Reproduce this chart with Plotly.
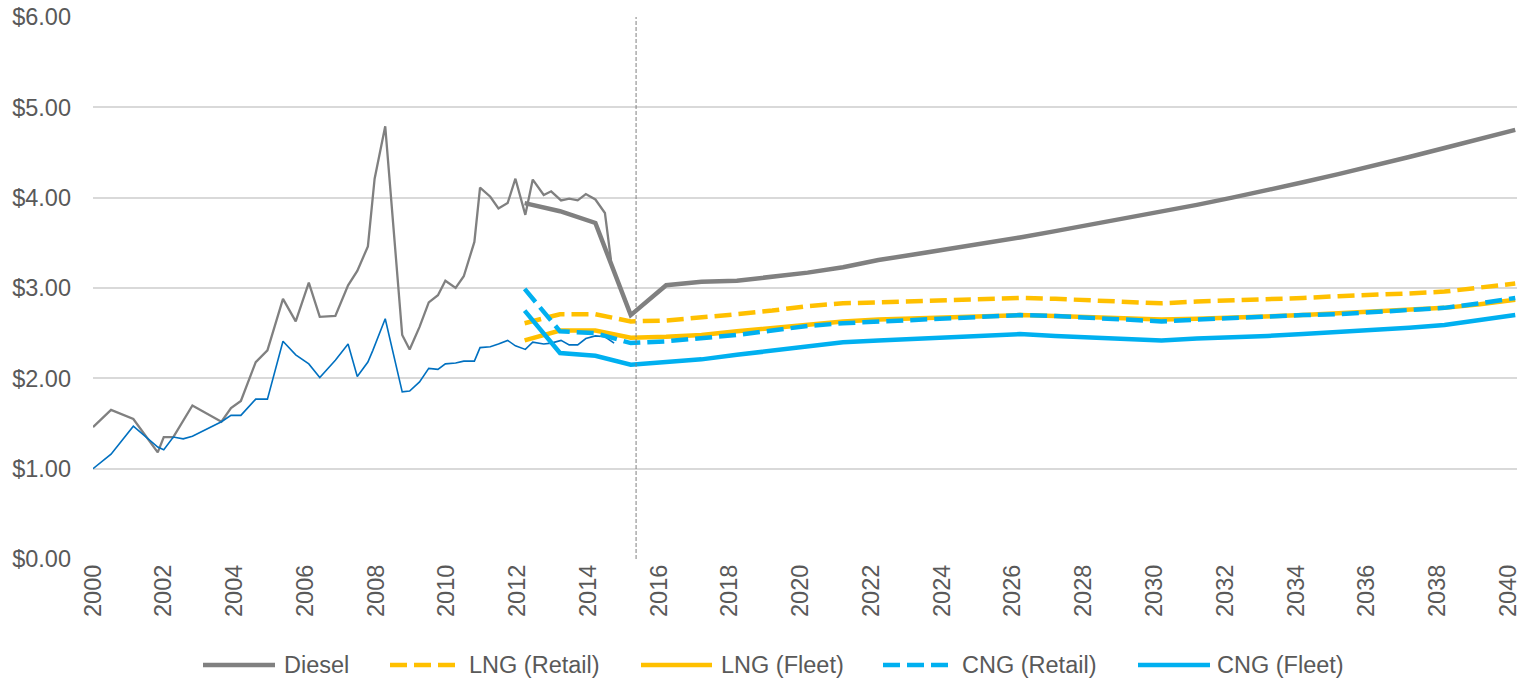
import plotly.graph_objects as go

# ---------------- data ----------------
# Historical diesel (thin grey), x in decimal years
hist_diesel_x = [2000.0, 2000.51, 2001.14, 2001.83, 2002.0, 2002.27, 2002.81, 2003.63, 2003.9,
                 2004.18, 2004.6, 2004.93, 2005.37, 2005.73, 2006.1, 2006.41, 2006.85, 2007.21,
                 2007.47, 2007.77, 2007.96, 2008.26, 2008.74, 2008.95, 2009.23, 2009.49, 2009.75,
                 2009.96, 2010.25, 2010.48, 2010.78, 2010.94, 2011.23, 2011.46, 2011.72, 2011.94,
                 2012.22, 2012.43, 2012.74, 2012.95, 2013.23, 2013.46, 2013.7, 2013.93, 2014.2,
                 2014.47, 2014.64]
hist_diesel_y = [1.46, 1.65, 1.55, 1.18, 1.35, 1.35, 1.70, 1.52, 1.67,
                 1.75, 2.18, 2.31, 2.88, 2.63, 3.06, 2.68, 2.69, 3.03,
                 3.19, 3.46, 4.21, 4.79, 2.48, 2.32, 2.57, 2.84, 2.92,
                 3.08, 3.00, 3.13, 3.51, 4.11, 4.01, 3.88, 3.94, 4.21,
                 3.81, 4.20, 4.03, 4.07, 3.97, 3.99, 3.97, 4.04, 3.98,
                 3.83, 3.31]

# Historical natural gas (thin blue)
hist_gas_x = [2000.0, 2000.51, 2001.14, 2001.83, 2002.0, 2002.27, 2002.55, 2002.81, 2003.63,
              2003.9, 2004.18, 2004.6, 2004.93, 2005.37, 2005.73, 2006.1, 2006.41, 2006.85,
              2007.21, 2007.47, 2007.77, 2007.91, 2008.26, 2008.74, 2008.95, 2009.23, 2009.49,
              2009.75, 2009.96, 2010.25, 2010.48, 2010.78, 2010.94, 2011.23, 2011.46, 2011.72,
              2011.94, 2012.22, 2012.43, 2012.74, 2012.95, 2013.23, 2013.46, 2013.7, 2013.93,
              2014.2, 2014.47, 2014.73]
hist_gas_y = [1.00, 1.16, 1.47, 1.24, 1.21, 1.35, 1.33, 1.36, 1.52,
              1.59, 1.59, 1.77, 1.77, 2.41, 2.26, 2.16, 2.01, 2.20,
              2.38, 2.02, 2.18, 2.31, 2.66, 1.85, 1.86, 1.96, 2.11,
              2.10, 2.16, 2.17, 2.19, 2.19, 2.34, 2.35, 2.38, 2.42,
              2.36, 2.32, 2.40, 2.38, 2.39, 2.42, 2.37, 2.37, 2.44,
              2.47, 2.46, 2.39]

# Forecast series (annual), plotted at year + 0.2
years = list(range(2012, 2041))
diesel = [3.94, 3.85, 3.72, 2.70, 3.03, 3.07, 3.08, 3.12, 3.17, 3.23, 3.31, 3.37, 3.43, 3.49, 3.56,
          3.63, 3.70, 3.77, 3.84, 3.92, 4.00, 4.08, 4.17, 4.26, 4.35, 4.45, 4.55, 4.65, 4.75]
lng_retail = [2.61, 2.71, 2.71, 2.63, 2.64, 2.67, 2.71, 2.75, 2.80, 2.83, 2.84, 2.85, 2.86, 2.87, 2.89,
              2.88, 2.86, 2.85, 2.83, 2.85, 2.86, 2.88, 2.89, 2.91, 2.92, 2.94, 2.96, 3.00, 3.05]
lng_fleet = [2.42, 2.53, 2.53, 2.45, 2.46, 2.48, 2.52, 2.56, 2.60, 2.63, 2.65, 2.66, 2.67, 2.68, 2.70,
             2.69, 2.68, 2.67, 2.65, 2.66, 2.67, 2.68, 2.70, 2.72, 2.74, 2.76, 2.78, 2.82, 2.87]
cng_retail = [2.99, 2.52, 2.50, 2.39, 2.41, 2.44, 2.48, 2.53, 2.58, 2.61, 2.63, 2.65, 2.66, 2.68, 2.70,
              2.69, 2.67, 2.65, 2.63, 2.65, 2.67, 2.68, 2.70, 2.71, 2.73, 2.75, 2.78, 2.83, 2.89]
cng_fleet = [2.75, 2.28, 2.25, 2.15, 2.18, 2.21, 2.26, 2.31, 2.36, 2.40, 2.42, 2.44, 2.45, 2.47, 2.49,
             2.47, 2.45, 2.44, 2.42, 2.44, 2.45, 2.47, 2.49, 2.51, 2.53, 2.56, 2.59, 2.64, 2.70]

series_names = ["Diesel", "LNG (Retail)", "LNG (Fleet)", "CNG (Retail)", "CNG (Fleet)"]

forecast_offset = 0.2
forecast_start = 2015.35
x_ticks = list(range(2000, 2041, 2))
y_ticks = [0, 1, 2, 3, 4, 5, 6]

# ---------------- styling ----------------
GREY = "#808080"
YELLOW = "#FFC000"
CYAN = "#00B0F0"
DARKBLUE = "#0070C0"
TEXT = "#595959"
FONT = "Liberation Sans, Arial, sans-serif"
FS = 23.5
THICK = 4.5
DASH = "17px,7px"

W, H = 1520, 679
PH = 542
ML, MR, MT = 93, 3, 17
MB = H - MT - PH
PW = W - ML - MR

styles = [
    dict(color=GREY, dash="solid"),
    dict(color=YELLOW, dash=DASH),
    dict(color=YELLOW, dash="solid"),
    dict(color=CYAN, dash=DASH),
    dict(color=CYAN, dash="solid"),
]
series_vals = [diesel, lng_retail, lng_fleet, cng_retail, cng_fleet]

fx = [y + forecast_offset for y in years]

fig = go.Figure()
fig.add_trace(go.Scatter(x=hist_diesel_x, y=hist_diesel_y, mode="lines", showlegend=False,
                         line=dict(color=GREY, width=2.3), hoverinfo="skip"))
fig.add_trace(go.Scatter(x=hist_gas_x, y=hist_gas_y, mode="lines", showlegend=False,
                         line=dict(color=DARKBLUE, width=1.6), hoverinfo="skip"))
for name, vals, st in zip(series_names, series_vals, styles):
    fig.add_trace(go.Scatter(x=fx, y=vals, mode="lines", name=name, showlegend=False,
                             line=dict(color=st["color"], width=THICK, dash=st["dash"])))

# forecast divider
fig.add_shape(type="line", x0=forecast_start, x1=forecast_start, xref="x",
              y0=0, y1=1, yref="paper", line=dict(color="#808080", width=1, dash="4px,2px"))

# legend (drawn below the plot, Excel-style long swatches); positions in page pixels
legend_y_px = 665
legend_items_px = [(203, 275, 282), (390, 455, 467), (641, 712, 719), (883, 948, 960), (1138, 1210, 1215)]
ly = (MT + PH - legend_y_px) / PH
for name, st, (x0, x1, xt) in zip(series_names, styles, legend_items_px):
    fig.add_shape(type="line", xref="paper", yref="paper",
                  x0=(x0 - ML) / PW, x1=(x1 - ML) / PW, y0=ly, y1=ly,
                  line=dict(color=st["color"], width=THICK, dash=st["dash"]))
    fig.add_annotation(xref="paper", yref="paper", x=(xt - ML) / PW, y=ly,
                       xanchor="left", yanchor="middle", text=name, showarrow=False,
                       font=dict(family=FONT, size=FS, color=TEXT))

fig.update_layout(
    width=W, height=H,
    margin=dict(l=ML, r=MR, t=MT, b=MB),
    paper_bgcolor="white", plot_bgcolor="white",
    font=dict(family=FONT, size=FS, color=TEXT),
    showlegend=False,
    xaxis=dict(range=[2000, 2040.25], tickmode="array", tickvals=x_ticks,
               ticktext=[str(t) for t in x_ticks], tickangle=-90,
               showgrid=False, zeroline=False, showline=False, ticks="",
               automargin=False, ticklabeloverflow="allow",
               tickfont=dict(family=FONT, size=FS, color=TEXT)),
    yaxis=dict(range=[0, 6], tickmode="array", tickvals=y_ticks,
               ticktext=[f"${v:.2f}" for v in y_ticks],
               showgrid=True, gridcolor="#d9d9d9", gridwidth=1.5, zeroline=False,
               showline=False, ticks="", ticklabelstandoff=21, automargin=False,
               ticklabeloverflow="allow",
               tickfont=dict(family=FONT, size=FS, color=TEXT)),
)

# remove the default 8px page margin so the figure fills the window exactly
fig.write_html("out.html",
               config={"displayModeBar": False},
               post_script="document.body.style.margin='0';document.body.style.overflow='hidden';")
